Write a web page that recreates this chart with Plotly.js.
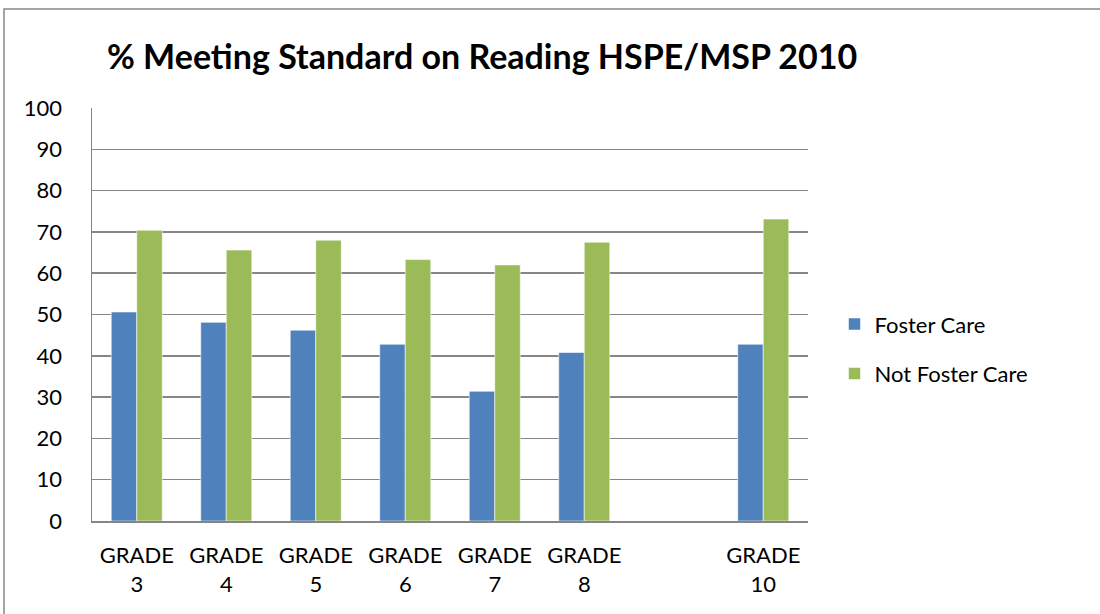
<!DOCTYPE html>
<html>
<head>
<meta charset="utf-8">
<script src="https://cdn.plot.ly/plotly-3.0.1.min.js"></script>
<style>html,body{margin:0;padding:0;background:#fff;}#chart{width:1100px;height:614px;}</style>
</head>
<body>
<div id="chart"></div>
<script>
const categories = ['GRADE<br>3', 'GRADE<br>4', 'GRADE<br>5', 'GRADE<br>6', 'GRADE<br>7', 'GRADE<br>8', ' ', 'GRADE<br>10'];
const fosterCare = [50.6, 48.1, 46.2, 42.8, 31.4, 40.8, null, 42.8];
const notFosterCare = [70.4, 65.6, 68.0, 63.3, 62.0, 67.5, null, 73.1];
const seriesNames = ['Foster Care', 'Not Foster Care'];
const yTicks = [0, 10, 20, 30, 40, 50, 60, 70, 80, 90, 100];

const font = 'Lato, "Open Sans", sans-serif';
const traces = [
  {type: 'bar', name: seriesNames[0], x: categories, y: fosterCare, legendgroup: 'a',
   marker: {color: '#4F81BD', line: {color: 'rgba(255,255,255,0.55)', width: 1}}},
  {type: 'bar', name: seriesNames[1], x: categories, y: notFosterCare, legendgroup: 'b',
   marker: {color: '#9BBB59', line: {color: 'rgba(255,255,255,0.55)', width: 1}}}
];
const layout = {
  width: 1100, height: 614,
  margin: {l: 92, r: 292, t: 108, b: 93},
  paper_bgcolor: '#fff', plot_bgcolor: '#fff',
  font: {family: font, color: '#000', size: 22},
  title: {text: '<b>% Meeting Standard on Reading HSPE/MSP 2010</b>', x: 107/1100, xanchor: 'left', y: 1 - 57/614, yanchor: 'middle',
          font: {family: font, size: 34, color: '#000'}},
  bargap: 0.43, bargroupgap: 0,
  barmode: 'group',
  xaxis: {type: 'category', categoryorder: 'array', categoryarray: categories,
          showline: true, linecolor: '#868686', linewidth: 2, showgrid: false,
          ticks: 'outside', ticklen: 14, tickcolor: 'rgba(0,0,0,0)', tickfont: {size: 22, family: font}, fixedrange: true},
  yaxis: {range: [0, 100], tickvals: yTicks, ticktext: yTicks.map(String),
          showline: true, linecolor: '#868686', linewidth: 1.5,
          showgrid: true, gridcolor: '#868686', gridwidth: 1.5, zeroline: false,
          ticks: 'outside', ticklen: 24, tickcolor: 'rgba(0,0,0,0)', tickfont: {size: 22, family: font}, fixedrange: true},
  legend: {x: 1.037, xanchor: 'left', y: 0.416, yanchor: 'middle', traceorder: 'grouped', tracegroupgap: 18,
           font: {size: 22, family: font}, bgcolor: 'rgba(0,0,0,0)', itemwidth: 30},
  shapes: [{type: 'rect', xref: 'paper', yref: 'paper', x0: -88/716, x1: 2, y0: -1, y1: 1 + 99/413,
            line: {color: '#868686', width: 1.5}, fillcolor: 'rgba(0,0,0,0)', layer: 'below'}]
};
Plotly.newPlot('chart', traces, layout, {displayModeBar: false, staticPlot: true});
</script>
</body>
</html>
